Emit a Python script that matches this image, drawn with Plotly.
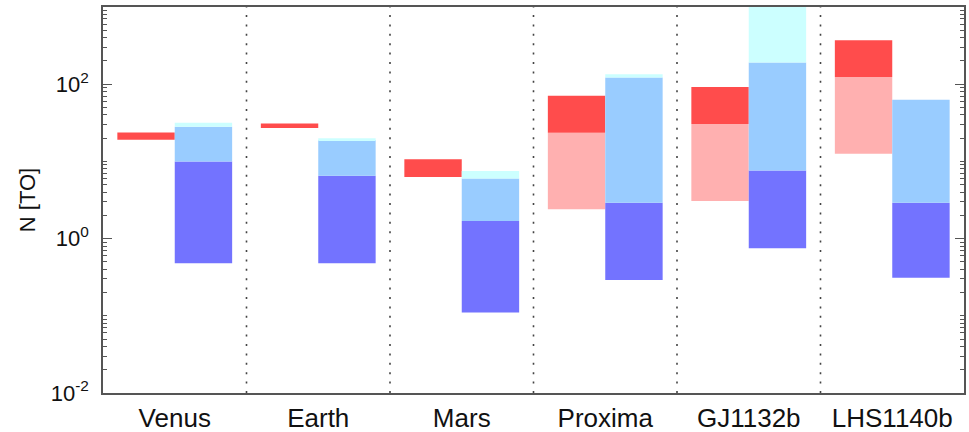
import plotly.graph_objects as go

# ---- data ----
names = ["Venus", "Earth", "Mars", "Proxima", "GJ1132b", "LHS1140b"]
red_hi = [23.7, 31.0, 10.7, 71.0, 92.0, 372.0]
red_lo = [19.1, 27.0, 6.3, 23.5, 30.5, 124.0]
pink_lo = [None, None, None, 2.4, 3.07, 12.6]
cyan_hi = [31.7, 20.0, 7.5, 135.0, 1000.0, None]
lb_hi = [28.1, 18.9, 6.0, 122.0, 191.0, 62.8]
db_hi = [10.0, 6.5, 1.69, 2.92, 7.6, 2.92]
db_lo = [0.48, 0.48, 0.11, 0.29, 0.75, 0.31]

RED = "rgb(255,76,76)"
PINK = "rgb(255,176,176)"
CYAN = "rgb(204,255,255)"
LBLUE = "rgb(153,204,255)"
DBLUE = "rgb(115,115,255)"

xs = list(range(len(names)))


def seg(lo, hi, color, offset):
    base, h = [], []
    for a, b in zip(lo, hi):
        if a is None or b is None:
            base.append(None)
            h.append(None)
        else:
            base.append(a)
            h.append(b - a)
    return go.Bar(x=xs, y=h, base=base, width=0.4, offset=offset,
                  marker=dict(color=color, line=dict(width=0)),
                  showlegend=False, hoverinfo="skip")


fig = go.Figure()
fig.add_trace(seg(pink_lo, red_lo, PINK, -0.4))
fig.add_trace(seg(red_lo, red_hi, RED, -0.4))
fig.add_trace(seg(db_lo, db_hi, DBLUE, 0.0))
fig.add_trace(seg(db_hi, lb_hi, LBLUE, 0.0))
fig.add_trace(seg(lb_hi, cyan_hi, CYAN, 0.0))

# dotted separators between planets
for i in range(len(names) - 1):
    fig.add_shape(type="line", x0=i + 0.5, x1=i + 0.5, y0=0, y1=1,
                  xref="x", yref="paper",
                  line=dict(color="#444", width=1.6, dash="2px,7.4px"),
                  layer="above")

minor_vals = []
for k in range(-2, 3):
    for m in range(1, 10):
        v = m * 10 ** k
        if m == 1 and k % 2 == 0:
            continue
        minor_vals.append(v)
minor_vals.append(1000)

L, R, T, B = 103, 5, 7, 39
fig.update_layout(
    width=969, height=432,
    margin=dict(l=L, r=R, t=T, b=B),
    paper_bgcolor="white", plot_bgcolor="white",
    barmode="overlay",
    font=dict(family="Liberation Sans, Arial, Helvetica, sans-serif", color="#111", size=21),
    xaxis=dict(
        range=[-0.5, 5.5], tickmode="array", tickvals=xs, ticktext=names,
        showgrid=False, zeroline=False, ticks="", automargin=False,
        showline=True, linecolor="#555", linewidth=1.5, mirror=True,
        tickfont=dict(size=26, color="#111"),
        ticklabelstandoff=1,
    ),
    yaxis=dict(
        type="log", range=[-2, 3], automargin=False,
        tickmode="array", tickvals=[0.01, 1, 100],
        ticktext=["10<sup>-2</sup>", "10<sup>0</sup>", "10<sup>2</sup>"],
        ticks="inside", ticklen=9, tickwidth=1, tickcolor="#555",
        showgrid=False, zeroline=False,
        showline=True, linecolor="#555", linewidth=1.5, mirror="allticks",
        tickfont=dict(size=22, color="#111"),
        ticklabelstandoff=8,
        minor=dict(tickmode="array", tickvals=minor_vals, ticks="inside",
                   ticklen=4, tickwidth=1, tickcolor="#555", showgrid=False),
        title=dict(text="N [TO]", font=dict(size=22, color="#111"), standoff=9),
    ),
)

fig.write_html("out.html",
               config={"displayModeBar": False},
               post_script="document.body.style.margin='0';document.body.style.overflow='hidden';")
